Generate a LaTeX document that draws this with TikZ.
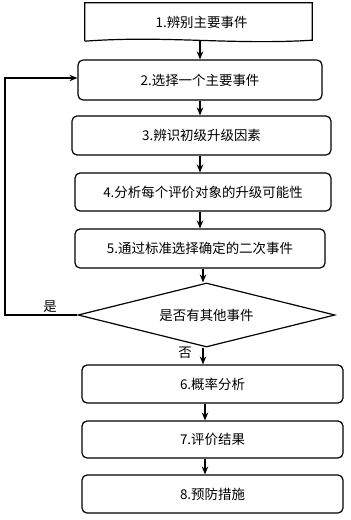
\documentclass[tikz,border=0pt]{standalone}
\usepackage{fontspec}
\newfontfamily\cjk{Noto Sans CJK SC}
\usetikzlibrary{shapes.geometric,arrows.meta}
\begin{document}
\begin{tikzpicture}[x=1bp,y=-1bp,
  every node/.style={font=\cjk\fontsize{13.5}{15}\selectfont},
  stepbox/.style={draw, line width=1.2pt, rounded corners=5bp, inner sep=0pt},
  arr/.style={line width=1.2pt, -{Stealth[length=8bp,width=6.5bp]}},
  lbl/.style={inner sep=0pt}]
\useasboundingbox (0,0) rectangle (350,520);
\node[inner sep=0pt, minimum width=227bp, minimum height=38bp] (b1) at (198.5,22) {\hspace{6bp}1.辨别主要事件};
\draw[line width=1.2pt] (b1.south west) -- (b1.north west) -- (b1.north east) -- ([yshift=1bp]b1.south east)
  .. controls ([xshift=-80bp,yshift=-4bp]b1.south east) and ([xshift=80bp,yshift=6bp]b1.south west) .. (b1.south west);
\node[stepbox, minimum width=244bp, minimum height=40bp] (b2) at (200,80) {2.选择一个主要事件};
\node[stepbox, minimum width=259bp, minimum height=39bp] (b3) at (201.5,135.5) {3.辨识初级升级因素};
\node[stepbox, minimum width=256bp, minimum height=38bp] (b4) at (203,192) {4.分析每个评价对象的升级可能性};
\node[stepbox, minimum width=250bp, minimum height=39bp] (b5) at (200,248.5) {5.通过标准选择确定的二次事件};
\node[draw, line width=1.2pt, diamond, aspect=4, inner sep=0pt, minimum width=257bp, minimum height=64bp] (d) at (206.5,315) {是否有其他事件};
\node[stepbox, minimum width=261bp, minimum height=38bp] (b6) at (212.5,384) {6.概率分析};
\node[stepbox, minimum width=261bp, minimum height=37bp] (b7) at (212.5,439.5) {7.评价结果};
\node[stepbox, minimum width=261bp, minimum height=38bp] (b8) at (212.5,494) {8.预防措施};
\coordinate (xa) at (200,0);
\coordinate (xb) at (203,0);
\coordinate (xc) at (205,0);
\draw[arr] (b1.south -| xa) -- (b2.north -| xa);
\draw[arr] (b2.south -| xa) -- (b3.north -| xa);
\draw[arr] (b3.south -| xa) -- (b4.north -| xa);
\draw[arr] (b4.south -| xa) -- (b5.north -| xa);
\draw[arr] (b5.south -| xb) -- (d.north -| xb);
\draw[arr] (d.south -| xb) -- (b6.north -| xb);
\draw[arr] (b6.south -| xc) -- (b7.north -| xc);
\draw[arr] (b7.south -| xc) -- (b8.north -| xc);
\coordinate (lb) at (5,315);
\coordinate (lt) at (5,78);
\draw[arr] (d.west) -- (lb) -- (lt) -- (lt -| b2.west);
\node[lbl] (yes) at (50,307) {是};
\node[lbl] (no) at (185,353) {否};
\end{tikzpicture}
\end{document}
